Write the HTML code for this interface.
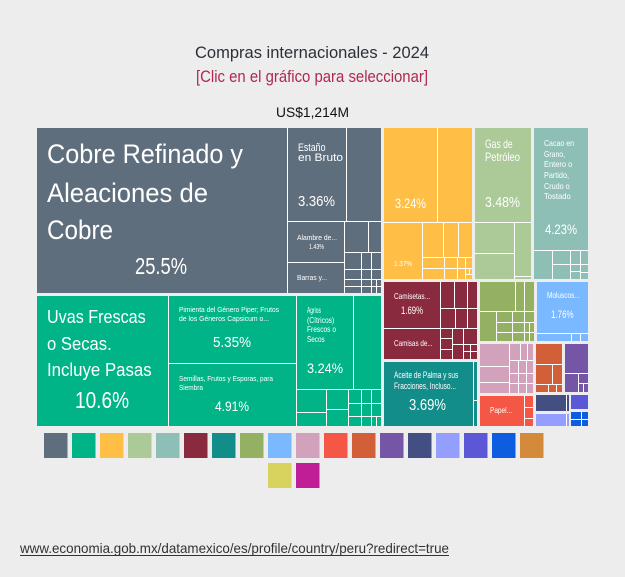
<!DOCTYPE html>
<html>
<head>
<meta charset="utf-8">
<style>
html,body{margin:0;padding:0;background:#ededed;}
svg{display:block;}
text{font-family:"Liberation Sans",sans-serif;}
.w{fill:#ffffff;}
</style>
</head>
<body>
<svg width="625" height="577" viewBox="0 0 625 577" xmlns="http://www.w3.org/2000/svg">
<rect x="0" y="0" width="625" height="577" fill="#ededed"/>

<!-- Titles -->
<text x="195" y="58" font-size="17" fill="#2b2f38" textLength="234" lengthAdjust="spacingAndGlyphs">Compras internacionales - 2024</text>
<text x="196" y="82" font-size="17" fill="#b0284f" textLength="232" lengthAdjust="spacingAndGlyphs">[Clic en el gráfico para seleccionar]</text>
<text x="276" y="117" font-size="14" fill="#111" textLength="73" lengthAdjust="spacingAndGlyphs">US$1,214M</text>

<!-- group white backgrounds -->
<g fill="#ffffff">
<rect x="37" y="128" width="344" height="165"/>
<rect x="384" y="128" width="88" height="151"/>
<rect x="475" y="128" width="56" height="151"/>
<rect x="534" y="128" width="54" height="151"/>
<rect x="37" y="296" width="344" height="130"/>
<rect x="384" y="282" width="93" height="77"/>
<rect x="384" y="362" width="93" height="64"/>
<rect x="480" y="282" width="54" height="59"/>
<rect x="537" y="282" width="51" height="59"/>
<rect x="480" y="344" width="53" height="49"/>
<rect x="480" y="396" width="53" height="30"/>
<rect x="536" y="344" width="26" height="48"/>
<rect x="565" y="344" width="23" height="48"/>
<rect x="536" y="395" width="33" height="16"/>
<rect x="536" y="414" width="33" height="12"/>
<rect x="571" y="395" width="17" height="14"/>
<rect x="571" y="412" width="17" height="14"/>
</g>

<!-- Gray -->
<g fill="#5f6e7d">
<rect x="37" y="128" width="250" height="165"/>
<rect x="288" y="128" width="58" height="93"/>
<rect x="347" y="128" width="34" height="93"/>
<rect x="288" y="222" width="56" height="40"/>
<rect x="288" y="263" width="56" height="30"/>
<rect x="345" y="222" width="23" height="30"/>
<rect x="369" y="222" width="12" height="30"/>
<rect x="345" y="253" width="16" height="16"/>
<rect x="362" y="253" width="9" height="16"/>
<rect x="372" y="253" width="9" height="16"/>
<rect x="345" y="270" width="16" height="9"/>
<rect x="362" y="270" width="9" height="9"/>
<rect x="372" y="270" width="9" height="9"/>
<rect x="345" y="280" width="16" height="6"/>
<rect x="345" y="287" width="16" height="6"/>
<rect x="362" y="280" width="9" height="6"/>
<rect x="362" y="287" width="9" height="6"/>
<rect x="372" y="280" width="4" height="6"/>
<rect x="377" y="280" width="4" height="6"/>
<rect x="372" y="287" width="4" height="6"/>
<rect x="377" y="287" width="4" height="6"/>
</g>

<!-- Orange -->
<g fill="#ffbf47">
<rect x="384" y="128" width="53" height="94"/>
<rect x="438" y="128" width="34" height="94"/>
<rect x="384" y="223" width="38" height="56"/>
<rect x="423" y="223" width="20" height="34"/>
<rect x="444" y="223" width="14" height="34"/>
<rect x="459" y="223" width="13" height="34"/>
<rect x="423" y="258" width="21" height="10"/>
<rect x="423" y="269" width="21" height="10"/>
<rect x="445" y="258" width="12" height="10"/>
<rect x="445" y="269" width="12" height="10"/>
<rect x="458" y="258" width="7" height="10"/>
<rect x="466" y="258" width="6" height="10"/>
<rect x="458" y="269" width="7" height="10"/>
<rect x="466" y="269" width="3" height="5"/>
<rect x="470" y="269" width="2" height="5"/>
<rect x="466" y="275" width="6" height="4"/>
</g>

<!-- Gas -->
<g fill="#abca98">
<rect x="475" y="128" width="56" height="94"/>
<rect x="475" y="223" width="39" height="30"/>
<rect x="475" y="254" width="39" height="25"/>
<rect x="515" y="223" width="16" height="53"/>
<rect x="515" y="277" width="16" height="2"/>
</g>

<!-- Cacao -->
<g fill="#8ebfb6">
<rect x="534" y="128" width="54" height="122"/>
<rect x="534" y="251" width="18" height="28"/>
<rect x="553" y="251" width="17" height="13"/>
<rect x="553" y="265" width="17" height="14"/>
<rect x="571" y="251" width="9" height="13"/>
<rect x="581" y="251" width="7" height="13"/>
<rect x="571" y="265" width="9" height="6"/>
<rect x="571" y="272" width="9" height="7"/>
<rect x="581" y="265" width="7" height="7"/>
<rect x="581" y="273" width="7" height="6"/>
</g>

<!-- Green -->
<g fill="#00b487">
<rect x="37" y="296" width="131" height="130"/>
<rect x="169" y="296" width="127" height="67"/>
<rect x="169" y="364" width="127" height="62"/>
<rect x="297" y="296" width="56" height="93"/>
<rect x="354" y="296" width="27" height="93"/>
<rect x="297" y="390" width="29" height="22"/>
<rect x="297" y="413" width="29" height="13"/>
<rect x="327" y="390" width="21" height="19"/>
<rect x="327" y="410" width="21" height="16"/>
<rect x="349" y="390" width="12" height="13"/>
<rect x="362" y="390" width="9" height="13"/>
<rect x="372" y="390" width="9" height="13"/>
<rect x="349" y="404" width="12" height="12"/>
<rect x="349" y="417" width="12" height="9"/>
<rect x="362" y="404" width="9" height="12"/>
<rect x="372" y="404" width="9" height="12"/>
<rect x="362" y="417" width="9" height="9"/>
<rect x="372" y="417" width="4" height="9"/>
<rect x="377" y="417" width="4" height="9"/>
</g>

<!-- Maroon -->
<g fill="#8a2a3e">
<rect x="384" y="282" width="56" height="46"/>
<rect x="384" y="329" width="56" height="30"/>
<rect x="441" y="282" width="13" height="26"/>
<rect x="455" y="282" width="12" height="26"/>
<rect x="468" y="282" width="9" height="26"/>
<rect x="441" y="309" width="14" height="19"/>
<rect x="456" y="309" width="11" height="19"/>
<rect x="468" y="309" width="9" height="19"/>
<rect x="441" y="329" width="11" height="9"/>
<rect x="441" y="339" width="11" height="10"/>
<rect x="441" y="350" width="11" height="9"/>
<rect x="453" y="329" width="10" height="15"/>
<rect x="464" y="329" width="13" height="15"/>
<rect x="453" y="345" width="10" height="14"/>
<rect x="464" y="345" width="6" height="6"/>
<rect x="471" y="345" width="6" height="6"/>
<rect x="464" y="352" width="6" height="7"/>
<rect x="471" y="352" width="6" height="7"/>
</g>

<!-- Teal -->
<g fill="#128d8a">
<rect x="384" y="362" width="89" height="64"/>
<rect x="474" y="362" width="3" height="38"/>
<rect x="474" y="401" width="3" height="25"/>
</g>

<!-- Olive -->
<g fill="#94b062">
<rect x="480" y="282" width="35" height="29"/>
<rect x="516" y="282" width="8" height="29"/>
<rect x="525" y="282" width="9" height="29"/>
<rect x="480" y="312" width="16" height="29"/>
<rect x="497" y="312" width="15" height="10"/>
<rect x="497" y="323" width="15" height="9"/>
<rect x="497" y="333" width="15" height="8"/>
<rect x="513" y="312" width="11" height="10"/>
<rect x="525" y="312" width="9" height="10"/>
<rect x="513" y="323" width="11" height="9"/>
<rect x="513" y="333" width="11" height="8"/>
<rect x="525" y="323" width="4" height="9"/>
<rect x="530" y="323" width="4" height="9"/>
<rect x="525" y="333" width="4" height="8"/>
<rect x="530" y="333" width="4" height="8"/>
</g>

<!-- Light blue -->
<g fill="#7ab8ff">
<rect x="537" y="282" width="51" height="51"/>
<rect x="537" y="334" width="34" height="7"/>
<rect x="572" y="334" width="8" height="7"/>
<rect x="581" y="334" width="7" height="7"/>
</g>

<!-- Pink -->
<g fill="#d2a1bb">
<rect x="480" y="344" width="29" height="22"/>
<rect x="480" y="367" width="29" height="15"/>
<rect x="480" y="383" width="29" height="10"/>
<rect x="510" y="344" width="10" height="16"/>
<rect x="521" y="344" width="6" height="16"/>
<rect x="528" y="344" width="5" height="16"/>
<rect x="510" y="361" width="8" height="12"/>
<rect x="519" y="361" width="7" height="12"/>
<rect x="527" y="361" width="6" height="12"/>
<rect x="510" y="374" width="8" height="9"/>
<rect x="510" y="384" width="8" height="9"/>
<rect x="519" y="374" width="7" height="9"/>
<rect x="519" y="384" width="7" height="9"/>
<rect x="527" y="374" width="6" height="9"/>
<rect x="527" y="384" width="6" height="9"/>
</g>

<!-- Red -->
<g fill="#f55746">
<rect x="480" y="396" width="44" height="30"/>
<rect x="525" y="396" width="8" height="11"/>
<rect x="525" y="408" width="8" height="10"/>
<rect x="525" y="419" width="8" height="7"/>
</g>

<!-- Orange-red -->
<g fill="#d35f38">
<rect x="536" y="344" width="26" height="20"/>
<rect x="536" y="365" width="16" height="19"/>
<rect x="553" y="365" width="9" height="19"/>
<rect x="536" y="385" width="12" height="7"/>
<rect x="549" y="385" width="7" height="7"/>
<rect x="557" y="385" width="5" height="7"/>
</g>

<!-- Purple -->
<g fill="#7455a6">
<rect x="565" y="344" width="23" height="29"/>
<rect x="565" y="374" width="13" height="18"/>
<rect x="579" y="374" width="9" height="9"/>
<rect x="579" y="384" width="4" height="8"/>
<rect x="584" y="384" width="4" height="8"/>
</g>

<!-- Navy / Periwinkle / Slate / Blue -->
<g fill="#434f82">
<rect x="536" y="395" width="30" height="16"/>
<rect x="567" y="395" width="2" height="16"/>
</g>
<g fill="#939eff">
<rect x="536" y="414" width="30" height="12"/>
<rect x="567" y="414" width="2" height="12"/>
</g>
<rect x="571" y="395" width="17" height="14" fill="#5c57d6"/>
<g fill="#0e5de0">
<rect x="571" y="412" width="10" height="7"/>
<rect x="582" y="412" width="6" height="7"/>
<rect x="571" y="420" width="10" height="6"/>
<rect x="582" y="420" width="6" height="6"/>
</g>

<!-- Labels -->
<g class="w">
<text x="47" y="163" font-size="27" textLength="196" lengthAdjust="spacingAndGlyphs">Cobre Refinado y</text>
<text x="47" y="202" font-size="27" textLength="161" lengthAdjust="spacingAndGlyphs">Aleaciones de</text>
<text x="47" y="239" font-size="27" textLength="66" lengthAdjust="spacingAndGlyphs">Cobre</text>
<text x="135" y="274" font-size="23" textLength="52" lengthAdjust="spacingAndGlyphs">25.5%</text>

<text x="298" y="151" font-size="11" textLength="27.5" lengthAdjust="spacingAndGlyphs">Estaño</text>
<text x="298" y="161" font-size="11" textLength="45" lengthAdjust="spacingAndGlyphs">en Bruto</text>
<text x="298" y="206" font-size="15" textLength="37" lengthAdjust="spacingAndGlyphs">3.36%</text>
<text x="297" y="240" font-size="7" textLength="40" lengthAdjust="spacingAndGlyphs">Alambre de...</text>
<text x="309" y="249" font-size="7" textLength="15" lengthAdjust="spacingAndGlyphs">1.43%</text>
<text x="297" y="280" font-size="7" textLength="30" lengthAdjust="spacingAndGlyphs">Barras y...</text>

<text x="395" y="208" font-size="14" textLength="31" lengthAdjust="spacingAndGlyphs">3.24%</text>
<text x="394" y="266" font-size="7" textLength="18" lengthAdjust="spacingAndGlyphs">1.37%</text>

<text x="485" y="148" font-size="12" textLength="27.7" lengthAdjust="spacingAndGlyphs">Gas de</text>
<text x="485" y="161" font-size="12" textLength="35" lengthAdjust="spacingAndGlyphs">Petróleo</text>
<text x="485" y="207" font-size="15" textLength="35" lengthAdjust="spacingAndGlyphs">3.48%</text>

<text x="544" y="146" font-size="8.5" textLength="30" lengthAdjust="spacingAndGlyphs">Cacao en</text>
<text x="544" y="157" font-size="8.5" textLength="21" lengthAdjust="spacingAndGlyphs">Grano,</text>
<text x="544" y="167" font-size="8.5" textLength="28.3" lengthAdjust="spacingAndGlyphs">Entero o</text>
<text x="544" y="178" font-size="8.5" textLength="25" lengthAdjust="spacingAndGlyphs">Partido,</text>
<text x="544" y="189" font-size="8.5" textLength="25.7" lengthAdjust="spacingAndGlyphs">Crudo o</text>
<text x="544" y="199" font-size="8.5" textLength="26.7" lengthAdjust="spacingAndGlyphs">Tostado</text>
<text x="545" y="234" font-size="14" textLength="32" lengthAdjust="spacingAndGlyphs">4.23%</text>

<text x="47" y="323" font-size="18" textLength="98.7" lengthAdjust="spacingAndGlyphs">Uvas Frescas</text>
<text x="47" y="350" font-size="18" textLength="64.7" lengthAdjust="spacingAndGlyphs">o Secas.</text>
<text x="47" y="376" font-size="18" textLength="104.7" lengthAdjust="spacingAndGlyphs">Incluye Pasas</text>
<text x="75" y="408" font-size="23" textLength="54" lengthAdjust="spacingAndGlyphs">10.6%</text>

<text x="179" y="312" font-size="7.5" textLength="100" lengthAdjust="spacingAndGlyphs">Pimienta del Género Piper; Frutos</text>
<text x="179" y="321" font-size="7.5" textLength="90" lengthAdjust="spacingAndGlyphs">de los Géneros Capsicum o...</text>
<text x="213" y="347" font-size="15" textLength="38" lengthAdjust="spacingAndGlyphs">5.35%</text>
<text x="179" y="381" font-size="7.5" textLength="94" lengthAdjust="spacingAndGlyphs">Semillas, Frutos y Esporas, para</text>
<text x="179" y="390" font-size="7.5" textLength="24" lengthAdjust="spacingAndGlyphs">Siembra</text>
<text x="215" y="411" font-size="14" textLength="34" lengthAdjust="spacingAndGlyphs">4.91%</text>

<text x="307" y="313" font-size="8.5" textLength="14" lengthAdjust="spacingAndGlyphs">Agrios</text>
<text x="307" y="323" font-size="8.5" textLength="27.3" lengthAdjust="spacingAndGlyphs">(Cítricos)</text>
<text x="307" y="332" font-size="8.5" textLength="29" lengthAdjust="spacingAndGlyphs">Frescos o</text>
<text x="307" y="342" font-size="8.5" textLength="17.7" lengthAdjust="spacingAndGlyphs">Secos</text>
<text x="307" y="373" font-size="14" textLength="36" lengthAdjust="spacingAndGlyphs">3.24%</text>

<text x="394" y="299" font-size="8.5" textLength="36" lengthAdjust="spacingAndGlyphs">Camisetas...</text>
<text x="401" y="314" font-size="11" textLength="22" lengthAdjust="spacingAndGlyphs">1.69%</text>
<text x="394" y="346" font-size="8.5" textLength="38.7" lengthAdjust="spacingAndGlyphs">Camisas de...</text>

<text x="394" y="378" font-size="9" textLength="64.3" lengthAdjust="spacingAndGlyphs">Aceite de Palma y sus</text>
<text x="394" y="389" font-size="9" textLength="62" lengthAdjust="spacingAndGlyphs">Fracciones, Incluso...</text>
<text x="409" y="410" font-size="16" textLength="37" lengthAdjust="spacingAndGlyphs">3.69%</text>

<text x="547" y="298" font-size="8" textLength="32.7" lengthAdjust="spacingAndGlyphs">Moluscos...</text>
<text x="551" y="318" font-size="11" textLength="22.6" lengthAdjust="spacingAndGlyphs">1.76%</text>

<text x="490" y="413" font-size="8" textLength="22" lengthAdjust="spacingAndGlyphs">Papel...</text>
</g>

<!-- Legend -->
<g>
<rect x="44" y="433" width="23.5" height="25" fill="#5f6e7d"/>
<rect x="72" y="433" width="23.5" height="25" fill="#00b487"/>
<rect x="100" y="433" width="23.5" height="25" fill="#ffbf47"/>
<rect x="128" y="433" width="23.5" height="25" fill="#abca98"/>
<rect x="156" y="433" width="23.5" height="25" fill="#8ebfb6"/>
<rect x="184" y="433" width="23.5" height="25" fill="#8a2a3e"/>
<rect x="212" y="433" width="23.5" height="25" fill="#128d8a"/>
<rect x="240" y="433" width="23.5" height="25" fill="#94b062"/>
<rect x="268" y="433" width="23.5" height="25" fill="#7ab8ff"/>
<rect x="296" y="433" width="23.5" height="25" fill="#d2a1bb"/>
<rect x="324" y="433" width="23.5" height="25" fill="#f55746"/>
<rect x="352" y="433" width="23.5" height="25" fill="#d35f38"/>
<rect x="380" y="433" width="23.5" height="25" fill="#7455a6"/>
<rect x="408" y="433" width="23.5" height="25" fill="#434f82"/>
<rect x="436" y="433" width="23.5" height="25" fill="#939eff"/>
<rect x="464" y="433" width="23.5" height="25" fill="#5c57d6"/>
<rect x="492" y="433" width="23.5" height="25" fill="#0e5de0"/>
<rect x="520" y="433" width="23.5" height="25" fill="#d38a3a"/>
<rect x="268" y="463" width="23.5" height="25" fill="#d8d35e"/>
<rect x="296" y="463" width="23.5" height="25" fill="#bf1e96"/>
</g>

<!-- Footer -->
<text x="20" y="553" font-size="14" fill="#333" textLength="429" lengthAdjust="spacingAndGlyphs">www.economia.gob.mx/datamexico/es/profile/country/peru?redirect=true</text>
<rect x="20" y="555" width="429" height="1" fill="#333"/>
</svg>
</body>
</html>
